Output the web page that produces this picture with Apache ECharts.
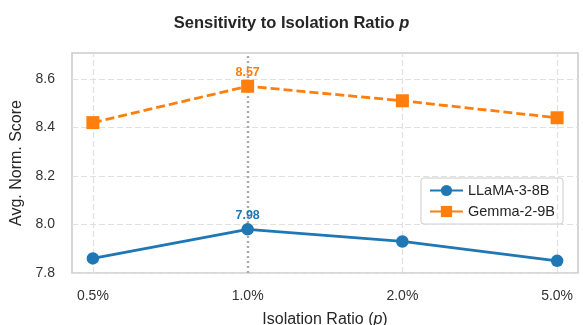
<!DOCTYPE html>
<html><head><meta charset="utf-8">
<script src="https://cdn.jsdelivr.net/npm/echarts@6/dist/echarts.min.js"></script>
<style>html,body{margin:0;padding:0;background:#fff}#c{width:583px;height:325px}</style>
</head><body><div id="c"></div>
<script>
const categories = ['0.5%', '1.0%', '2.0%', '5.0%'];
const llama = [7.86, 7.98, 7.93, 7.85];
const gemma = [8.42, 8.57, 8.51, 8.44];
const yTicks = [7.8, 8.0, 8.2, 8.4, 8.6];
const highlightIndex = 1;

const font = 'Liberation Sans, Arial, sans-serif';
const chart = echarts.init(document.getElementById('c'), null, {renderer: 'canvas'});
const idx = categories.map((_, i) => i);
const toPts = arr => arr.map((v, i) => [i, v]);
const labelAt = (color) => ({
  show: true, position: 'top', distance: 1,
  color: color, fontWeight: 'bold', fontSize: 12.5, fontFamily: font,
  formatter: p => p.dataIndex === highlightIndex ? p.value[1].toFixed(2) : ''
});
chart.setOption({
  animation: false,
  title: {
    text: '{a|Sensitivity to Isolation Ratio }{b|p}',
    left: 'center', top: 10,
    textStyle: {rich: {
      a: {fontSize: 16.5, fontWeight: 'bold', color: '#262626', fontFamily: font},
      b: {fontSize: 16.5, fontStyle: 'italic', color: '#262626', fontFamily: font}
    }}
  },
  grid: {left: 72, right: 5, top: 53, bottom: 52, show: true, borderColor: '#cccccc', borderWidth: 1.6,
         containLabel: false, outerBoundsMode: 'none'},
  legend: {
    data: ['LLaMA-3-8B', 'Gemma-2-9B'],
    right: 20, top: 178, orient: 'vertical',
    backgroundColor: '#fff', borderColor: '#cccccc', borderWidth: 1, borderRadius: 3,
    padding: [5, 8, 5, 8], itemGap: 6, itemWidth: 33, itemHeight: 14,
    lineStyle: {type: 'solid'},
    textStyle: {fontSize: 14.5, color: '#262626', fontFamily: font}
  },
  xAxis: {
    type: 'value', min: -0.135, max: 3.135,
    axisLine: {show: false}, axisTick: {show: false}, splitLine: {show: false},
    axisLabel: {customValues: idx, formatter: v => categories[Math.round(v)] || '', fontSize: 14, color: '#333', fontFamily: font, margin: 16},
    name: '{a|Isolation Ratio (}{b|p}{a|)}', nameLocation: 'middle', nameGap: 39,
    nameTextStyle: {rich: {
      a: {fontSize: 16, color: '#262626', fontFamily: font},
      b: {fontSize: 16, color: '#262626', fontFamily: font, fontStyle: 'italic'}
    }}
  },
  yAxis: {
    type: 'value', min: 7.8, max: 8.707,
    axisLine: {show: false}, axisTick: {show: false},
    axisLabel: {customValues: yTicks, formatter: v => v.toFixed(1), fontSize: 14, color: '#333', fontFamily: font, margin: 17},
    splitLine: {show: false},
    name: 'Avg. Norm. Score', nameLocation: 'middle', nameGap: 42,
    nameTextStyle: {fontSize: 16, color: '#262626', fontFamily: font}
  },
  series: [
    {
      name: 'grid', type: 'line', data: [], silent: true,
      markLine: {
        symbol: 'none', silent: true, label: {show: false},
        data: [
          ...yTicks.map(v => ({yAxis: v, lineStyle: {color: '#e0e0e0', type: [6, 3], width: 1.2}})),
          ...idx.filter(i => i !== highlightIndex).map(i => ({xAxis: i, lineStyle: {color: '#e0e0e0', type: [6, 3], width: 1.2}})),
          {xAxis: highlightIndex, lineStyle: {color: '#a8a8a8', type: [2, 3], width: 2.4}}
        ]
      }
    },
    {
      name: 'LLaMA-3-8B', type: 'line', data: toPts(llama), z: 5,
      symbol: 'circle', symbolSize: 12.5,
      lineStyle: {color: '#1f77b4', width: 2.8}, itemStyle: {color: '#1f77b4'},
      label: labelAt('#1f77b4')
    },
    {
      name: 'Gemma-2-9B', type: 'line', data: toPts(gemma), z: 5,
      symbol: 'rect', symbolSize: 13,
      lineStyle: {color: '#ff7f0e', width: 2.8, type: [9, 4]}, itemStyle: {color: '#ff7f0e'},
      label: labelAt('#ff7f0e')
    }
  ]
});
</script></body></html>
